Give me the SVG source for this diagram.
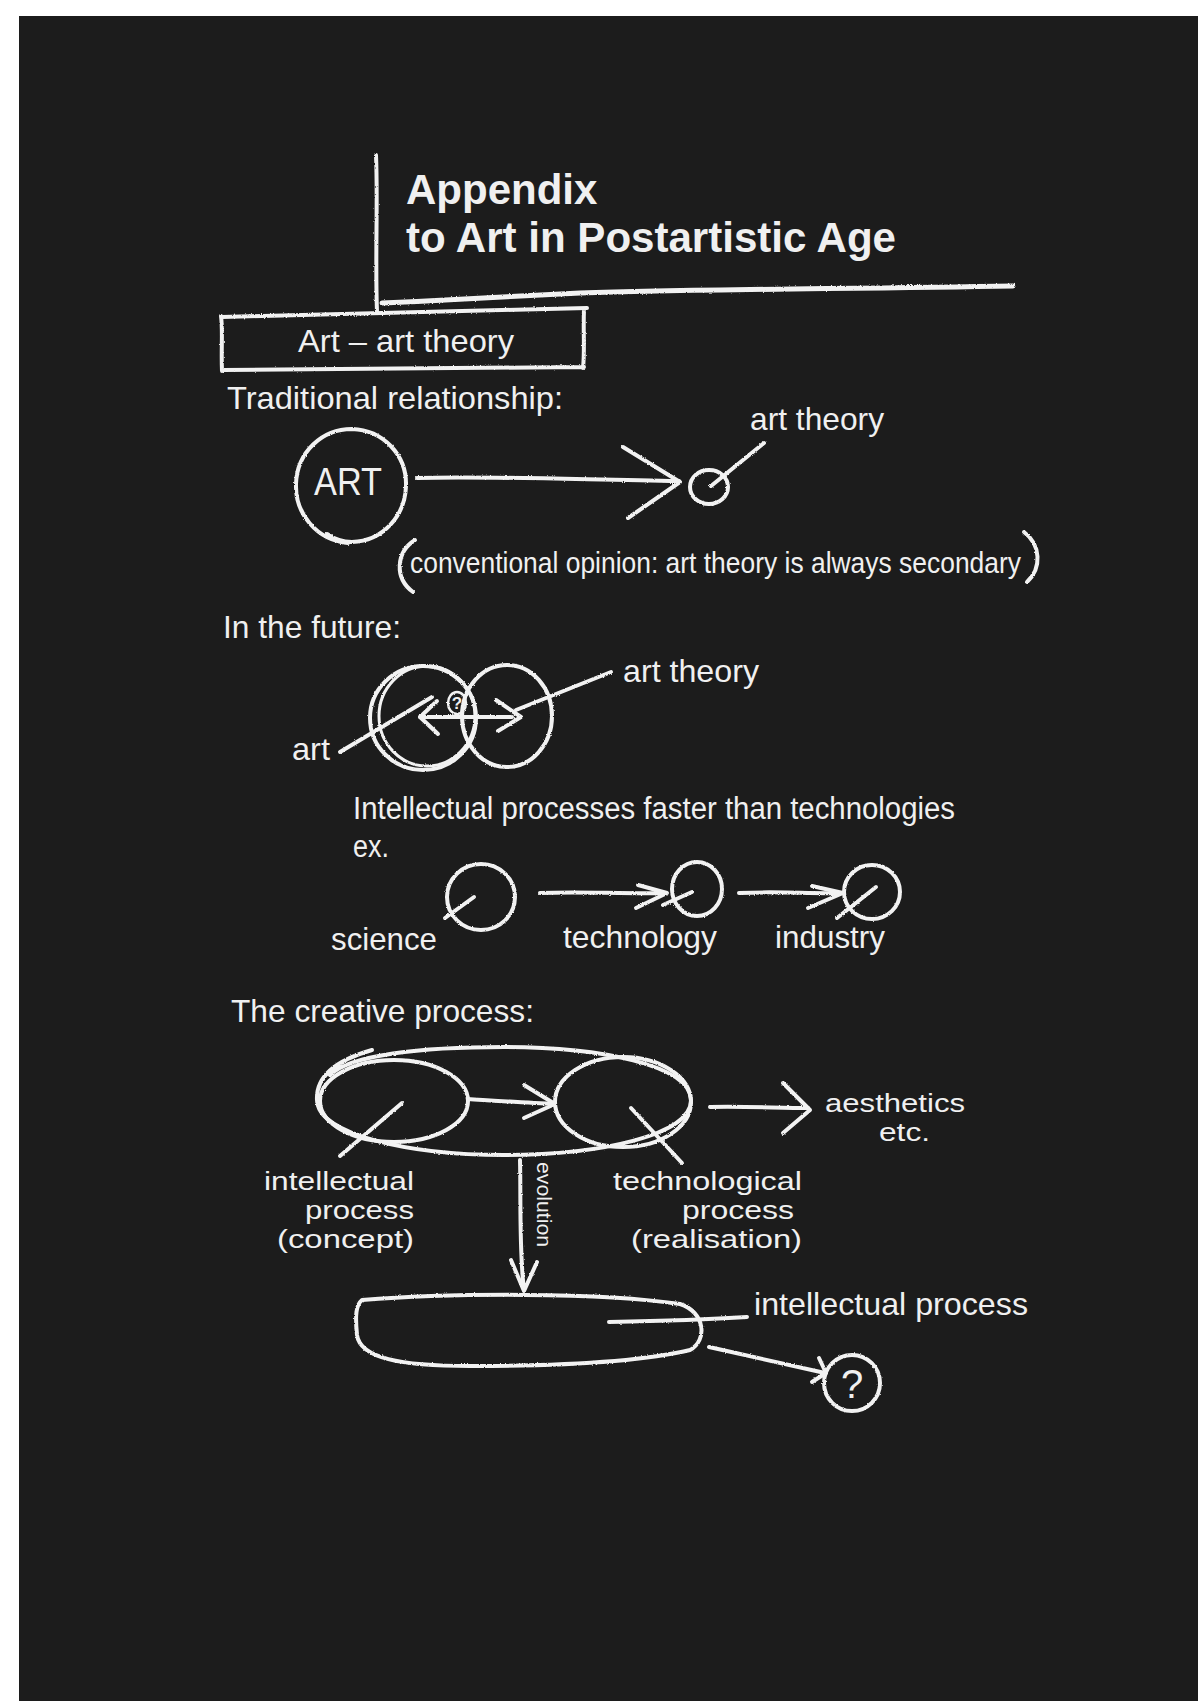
<svg xmlns="http://www.w3.org/2000/svg" width="1198" height="1701" viewBox="0 0 1198 1701">
<defs>
<style>
.ln{fill:none;stroke:#f2f2f2;stroke-width:4;stroke-linecap:round;stroke-linejoin:round}
.t{font-family:"Liberation Sans",Arial,sans-serif;fill:#f0f0f0;font-size:32px}
.tb{font-weight:bold;font-size:42px}
.s{font-size:26px}
</style>
<filter id="chalk" filterUnits="userSpaceOnUse" x="0" y="0" width="1198" height="1701">
<feTurbulence type="fractalNoise" baseFrequency="0.9" numOctaves="1" seed="3" result="n"/>
<feDisplacementMap in="SourceGraphic" in2="n" scale="2.5" xChannelSelector="R" yChannelSelector="G"/>
</filter>
</defs>
<rect x="0" y="0" width="1198" height="1701" fill="#ffffff"/>
<rect x="19" y="16" width="1179" height="1685" fill="#1c1c1c"/>

<g filter="url(#chalk)">
<g id="title">
<path class="ln" d="M376,155 C378,200 375,260 377,312"/>
<path class="ln" style="stroke-width:5" d="M382,303 C450,300 520,296 580,293 C700,289 850,289 1013,286"/>
</g>
<g id="box-art-art-theory">
<path class="ln" d="M222,317 C320,314 450,311 587,308 M584,310 C583,330 585,350 583,368 M584,367 C450,369 330,368 223,370 M222,371 C221,350 223,330 221,316"/>
</g>
<g id="art-circle">
<path class="ln" d="M348,543 C316,540 295,513 296,484 C297,452 322,429 352,429 C383,430 407,455 406,486 C405,516 383,541 352,542 C342,542 334,539 327,534"/>
</g>
<g id="art-theory-small">
<ellipse class="ln" cx="709" cy="487" rx="19" ry="17"/>
</g>
<g id="note-parens">
<path class="ln" d="M415,540 C396,552 394,578 413,592"/>
<path class="ln" d="M1024,532 C1041,545 1042,568 1027,582"/>
</g>
<g id="future-circles">
<ellipse class="ln" cx="423" cy="718" rx="53" ry="52"/>
<ellipse class="ln" style="stroke-width:3" cx="427" cy="716" rx="48" ry="50"/>
<ellipse class="ln" cx="507" cy="716" rx="45" ry="51"/>
<ellipse class="ln" style="stroke-width:2.5" cx="457" cy="703" rx="9" ry="11"/>
</g>
<g id="science">
<ellipse class="ln" cx="481" cy="897" rx="34" ry="33"/>
</g>
<g id="technology">
<ellipse class="ln" cx="697" cy="889" rx="25" ry="27"/>
</g>
<g id="industry">
<ellipse class="ln" cx="872" cy="892" rx="28" ry="27"/>
</g>
<g id="creative-process">
<path class="ln" d="M330,1075 C350,1055 420,1047 504,1047 C600,1047 690,1065 691,1100 C692,1135 600,1155 504,1155 C410,1155 318,1135 317,1100 C316,1080 330,1062 372,1050"/>
</g>
<g id="intellectual-process-node">
<ellipse class="ln" cx="394" cy="1101" rx="74" ry="41"/>
</g>
<g id="technological-process-node">
<ellipse class="ln" cx="623" cy="1102" rx="68" ry="45"/>
</g>
<g id="future-intellectual-process">
<path class="ln" d="M362,1300 C450,1293 600,1292 680,1304 C705,1312 708,1340 690,1350 C640,1362 560,1366 470,1366 C400,1366 360,1358 357,1335 C355,1315 356,1305 362,1300 Z"/>
</g>
<g id="question-node">
<ellipse class="ln" cx="852" cy="1383" rx="28" ry="28"/>
</g>

<g id="connectors">
<path class="ln" d="M417,478 C480,476 560,479 679,481"/>
<path class="ln" d="M623,447 L680,482 L628,518"/>
<path class="ln" d="M711,486 L764,443"/>
<path class="ln" d="M340,752 L432,697"/>
<path class="ln" d="M611,672 L516,710"/>
<path class="ln" d="M420,717 L512,717"/>
<path class="ln" d="M437,701 L420,717 L438,734"/>
<path class="ln" d="M496,700 L521,717 L498,731"/>
<path class="ln" d="M474,897 L445,918"/>
<path class="ln" d="M540,893 C580,891 620,894 665,893"/>
<path class="ln" d="M638,885 L667,893 L636,908"/>
<path class="ln" d="M692,892 L663,905"/>
<path class="ln" d="M739,893 C780,891 810,894 842,893"/>
<path class="ln" d="M812,886 L843,893 L808,908"/>
<path class="ln" d="M876,887 L837,918"/>
<path class="ln" d="M468,1099 C500,1101 530,1103 555,1104"/>
<path class="ln" d="M524,1085 L555,1104 L524,1118"/>
<path class="ln" d="M402,1103 L340,1156"/>
<path class="ln" d="M631,1108 L682,1163"/>
<path class="ln" d="M710,1107 C740,1106 780,1108 808,1108"/>
<path class="ln" d="M783,1083 L810,1110 L783,1133"/>
<path class="ln" d="M520,1160 C521,1200 519,1250 524,1290"/>
<path class="ln" d="M511,1260 L524,1291 L537,1262"/>
<path class="ln" d="M609,1322 C660,1321 700,1320 747,1317"/>
<path class="ln" d="M709,1347 C750,1356 790,1365 825,1373"/>
<path class="ln" d="M812,1382 L826,1373 L819,1358"/>
</g>
</g>

<g id="texts">
<text class="t tb" x="406" y="204">Appendix</text>
<text class="t tb" x="406" y="252" textLength="490" lengthAdjust="spacingAndGlyphs">to Art in Postartistic Age</text>
<text class="t" x="298" y="352" textLength="216" lengthAdjust="spacingAndGlyphs">Art – art theory</text>
<text class="t" x="227" y="409" textLength="336" lengthAdjust="spacingAndGlyphs">Traditional relationship:</text>
<text class="t" x="314" y="495" style="font-size:38px" textLength="68" lengthAdjust="spacingAndGlyphs">ART</text>
<text class="t" x="750" y="430" textLength="134" lengthAdjust="spacingAndGlyphs">art theory</text>
<text class="t" x="410" y="573" style="font-size:29px" textLength="611" lengthAdjust="spacingAndGlyphs">conventional opinion: art theory is always secondary</text>
<text class="t" x="223" y="638" textLength="178" lengthAdjust="spacingAndGlyphs">In the future:</text>
<text class="t" x="457" y="709" style="font-size:17px;font-weight:bold" text-anchor="middle">?</text>
<text class="t" x="623" y="682" textLength="136" lengthAdjust="spacingAndGlyphs">art theory</text>
<text class="t" x="292" y="760" textLength="38" lengthAdjust="spacingAndGlyphs">art</text>
<text class="t" x="353" y="819" style="font-size:31px" textLength="602" lengthAdjust="spacingAndGlyphs">Intellectual processes faster than technologies</text>
<text class="t" x="353" y="857" style="font-size:31px" textLength="36" lengthAdjust="spacingAndGlyphs">ex.</text>
<text class="t" x="331" y="950" textLength="106" lengthAdjust="spacingAndGlyphs">science</text>
<text class="t" x="563" y="948" textLength="154" lengthAdjust="spacingAndGlyphs">technology</text>
<text class="t" x="775" y="948" textLength="110" lengthAdjust="spacingAndGlyphs">industry</text>
<text class="t" x="231" y="1022" textLength="303" lengthAdjust="spacingAndGlyphs">The creative process:</text>
<text class="t s" x="825" y="1112" textLength="140" lengthAdjust="spacingAndGlyphs">aesthetics</text>
<text class="t s" x="879" y="1141" textLength="51" lengthAdjust="spacingAndGlyphs">etc.</text>
<text class="t s" x="264" y="1190" textLength="150" lengthAdjust="spacingAndGlyphs">intellectual</text>
<text class="t s" x="305" y="1219" textLength="109" lengthAdjust="spacingAndGlyphs">process</text>
<text class="t s" x="277" y="1248" textLength="137" lengthAdjust="spacingAndGlyphs">(concept)</text>
<text class="t s" x="613" y="1190" textLength="189" lengthAdjust="spacingAndGlyphs">technological</text>
<text class="t s" x="682" y="1219" textLength="112" lengthAdjust="spacingAndGlyphs">process</text>
<text class="t s" x="631" y="1248" textLength="171" lengthAdjust="spacingAndGlyphs">(realisation)</text>
<text class="t" transform="translate(537,1162) rotate(90)" style="font-size:21px" textLength="85" lengthAdjust="spacingAndGlyphs">evolution</text>
<text class="t" x="754" y="1315" textLength="274" lengthAdjust="spacingAndGlyphs">intellectual process</text>
<text class="t" x="852" y="1398" style="font-size:40px" text-anchor="middle">?</text>
</g>
</svg>
